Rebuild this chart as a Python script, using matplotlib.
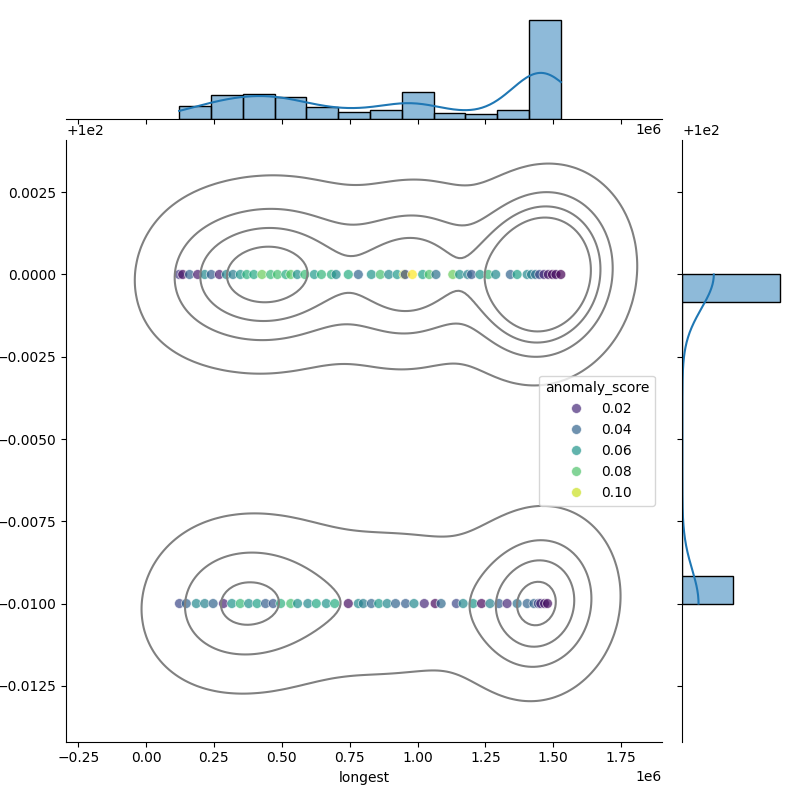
import matplotlib
matplotlib.use("Agg")
import matplotlib.pyplot as plt
import seaborn as sns
import pandas as pd

# points in the upper row (y = 100.0); x in units of 1e6
top_x = [0.122, 0.135, 0.160, 0.190, 0.216,
         0.240, 0.270, 0.296, 0.320, 0.347,
         0.371, 0.397, 0.427, 0.459,
         0.484, 0.515, 0.533, 0.557, 0.585,
         0.620, 0.646, 0.683, 0.700,
         0.745, 0.782,
         0.830, 0.863, 0.894, 0.925,
         0.950, 0.955, 0.981, 1.019, 1.043,
         1.068, 1.130, 1.155,
         1.185, 1.199, 1.230, 1.261, 1.288,
         1.342, 1.367, 1.404,
         1.420, 1.435, 1.450, 1.466, 1.482, 1.497, 1.510, 1.528]
top_score = [0.025, 0.012, 0.040, 0.015, 0.055,
             0.038, 0.015, 0.055, 0.050, 0.060,
             0.072, 0.068, 0.085, 0.075,
             0.078, 0.070, 0.082, 0.058, 0.076,
             0.062, 0.074, 0.072, 0.055,
             0.070, 0.040,
             0.060, 0.078, 0.055, 0.062,
             0.100, 0.030, 0.108, 0.065, 0.080,
             0.045, 0.085, 0.058,
             0.052, 0.035, 0.060, 0.075, 0.055,
             0.040, 0.065, 0.055,
             0.050, 0.045, 0.030, 0.020, 0.015, 0.010, 0.012, 0.008]
top_count = [8, 12, 12, 12, 16,
             16, 16, 20, 20, 24,
             28, 28, 32, 28,
             32, 32, 28, 24, 16,
             16, 16, 12, 12,
             16, 16,
             12, 12, 8, 12,
             40, 32, 48, 32, 28,
             8, 8, 8,
             4, 4, 4, 8, 4,
             16, 12, 16,
             60, 80, 84, 96, 84, 76, 36, 20]

# points in the lower row (y = 99.99)
bot_x = [0.123, 0.148, 0.185, 0.216,
         0.247, 0.285, 0.316, 0.347,
         0.378, 0.409, 0.440, 0.468,
         0.496, 0.533, 0.558,
         0.596, 0.627, 0.664, 0.695,
         0.745, 0.782, 0.800,
         0.830, 0.857, 0.888, 0.919,
         0.956, 0.987, 1.025,
         1.065, 1.087, 1.143, 1.168,
         1.205, 1.236, 1.267,
         1.300, 1.330, 1.367, 1.404,
         1.429, 1.445, 1.454, 1.468, 1.479]
bot_score = [0.030, 0.040, 0.055, 0.052,
             0.040, 0.018, 0.060, 0.075,
             0.058, 0.065, 0.038, 0.035,
             0.072, 0.078, 0.058,
             0.055, 0.068, 0.060, 0.070,
             0.012, 0.055, 0.050,
             0.040, 0.062, 0.055, 0.040,
             0.038, 0.055, 0.020,
             0.010, 0.042, 0.030, 0.055,
             0.060, 0.010, 0.052,
             0.038, 0.020, 0.045, 0.040,
             0.040, 0.030, 0.018, 0.015, 0.012]
bot_count = [8, 12, 8, 12,
             24, 24, 24, 20,
             20, 20, 20, 20,
             16, 16, 12,
             8, 12, 8, 8,
             8, 8, 8,
             8, 8, 8, 4,
             12, 12, 8,
             8, 4, 4, 8,
             4, 8, 4,
             4, 8, 4, 8,
             64, 56, 52, 44, 36]

row_values = [100.0, 99.99]

df = pd.DataFrame({
    "longest": [v * 1e6 for v in top_x + bot_x],
    "y": [row_values[0]] * len(top_x) + [row_values[1]] * len(bot_x),
    "anomaly_score": top_score + bot_score,
    "count": top_count + bot_count,
})
# one row per observation for the density / histogram parts
full = df.loc[df.index.repeat(df["count"])].reset_index(drop=True)

g = sns.JointGrid(data=full, x="longest", y="y", height=8)
sns.scatterplot(data=df, x="longest", y="y", hue="anomaly_score",
                palette="viridis", alpha=0.7, s=50, ax=g.ax_joint)
sns.kdeplot(data=full, x="longest", y="y", color="gray", levels=5,
            ax=g.ax_joint)
sns.histplot(data=full, x="longest", bins=12, kde=True, ax=g.ax_marg_x)
sns.histplot(data=full, y="y", bins=12, kde=True, ax=g.ax_marg_y)
g.ax_joint.legend(title="anomaly_score", loc="center right")
g.ax_joint.set_xlim(-0.294e6, 1.90e6)
g.ax_joint.set_ylim(100 - 0.0142, 100 + 0.0041)
g.set_axis_labels("longest", "")

plt.savefig("out.png", dpi=100)
